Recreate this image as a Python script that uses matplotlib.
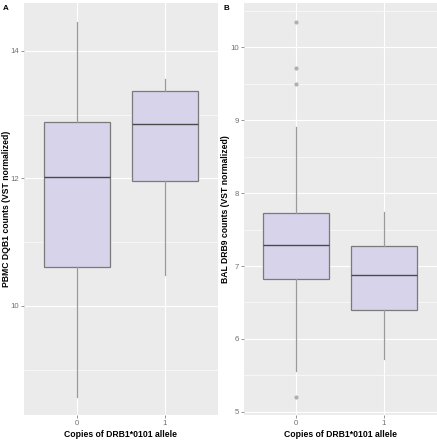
import matplotlib
matplotlib.use("Agg")
import matplotlib.pyplot as plt
from matplotlib.ticker import MultipleLocator

plt.rcParams["font.family"] = ["Liberation Sans", "DejaVu Sans"]

categories = ["0", "1"]
xlabel = "Copies of DRB1*0101 allele"

# Panel A (PBMC DQB1)
a_title = "PBMC DQB1 counts (VST normalized)"
a_whislo = [8.58, 10.49]
a_q1 = [10.61, 11.96]
a_med = [12.02, 12.86]
a_q3 = [12.89, 13.37]
a_whishi = [14.45, 13.56]
a_fliers = [[], []]

# Panel B (BAL DRB9)
b_title = "BAL DRB9 counts (VST normalized)"
b_whislo = [5.56, 5.72]
b_q1 = [6.82, 6.39]
b_med = [7.29, 6.88]
b_q3 = [7.73, 7.28]
b_whishi = [8.91, 7.74]
b_fliers = [[10.35, 9.72, 9.50, 5.20], []]

W, H = 437, 440
fig = plt.figure(figsize=(W / 100, H / 100), dpi=100)
fig.patch.set_facecolor("white")


def make_panel(rect, whislo, q1, med, q3, whishi, fliers, ylabel, ylim, major,
               letter, letter_x, ylabel_x):
    ax = fig.add_axes(rect)
    ax.set_facecolor("#EBEBEB")
    stats = []
    for i in range(len(categories)):
        stats.append(dict(whislo=whislo[i], q1=q1[i], med=med[i], q3=q3[i],
                          whishi=whishi[i], fliers=fliers[i]))
    ax.bxp(stats, positions=list(range(len(categories))), widths=0.75,
           patch_artist=True, showcaps=False,
           boxprops=dict(facecolor="#D6D3EA", edgecolor="#7A7A7A", linewidth=0.9),
           whiskerprops=dict(color="#9A9A9A", linewidth=0.9),
           medianprops=dict(color="#4A4A4A", linewidth=1.0),
           flierprops=dict(marker="o", markersize=2.0, markerfacecolor="#B0B0B0",
                           markeredgecolor="#B0B0B0", linestyle="none"),
           zorder=3)
    ax.set_xlim(-0.6, 1.6)
    ax.set_ylim(*ylim)
    ax.set_xticks(range(len(categories)))
    ax.set_xticklabels(categories)
    ax.yaxis.set_major_locator(MultipleLocator(major))
    ax.yaxis.set_minor_locator(MultipleLocator(major / 2))
    ax.grid(which="major", color="white", linewidth=0.8, zorder=0)
    ax.grid(which="minor", axis="y", color="white", linewidth=0.4, zorder=0)
    ax.set_axisbelow(True)
    for s in ax.spines.values():
        s.set_visible(False)
    ax.tick_params(axis="both", which="major", length=2, width=0.5, color="#6A6A6A",
                   labelsize=5.6, labelcolor="#707070", pad=1.5)
    ax.tick_params(axis="y", which="minor", length=0)
    ax.set_xlabel(xlabel, fontsize=6.2, fontweight="bold", color="black", labelpad=2)
    ax.set_ylabel(ylabel, fontsize=6.2, fontweight="bold", color="black")
    ax.yaxis.set_label_coords(ylabel_x, 0.5)
    fig.text(letter_x / W, 1 - 8 / H, letter, fontsize=5.8, fontweight="bold",
             ha="left", va="center")
    return ax


make_panel([24 / W, 25 / H, (217.7 - 24) / W, (415 - 3) / H],
           a_whislo, a_q1, a_med, a_q3, a_whishi, a_fliers, a_title,
           (8.29, 14.75), 2, "A", 3, -0.065)
make_panel([243.7 / W, 25 / H, (436.6 - 243.7) / W, (415 - 3) / H],
           b_whislo, b_q1, b_med, b_q3, b_whishi, b_fliers, b_title,
           (4.955, 10.61), 1, "B", 223, -0.071)

fig.savefig("out.png", dpi=100)
